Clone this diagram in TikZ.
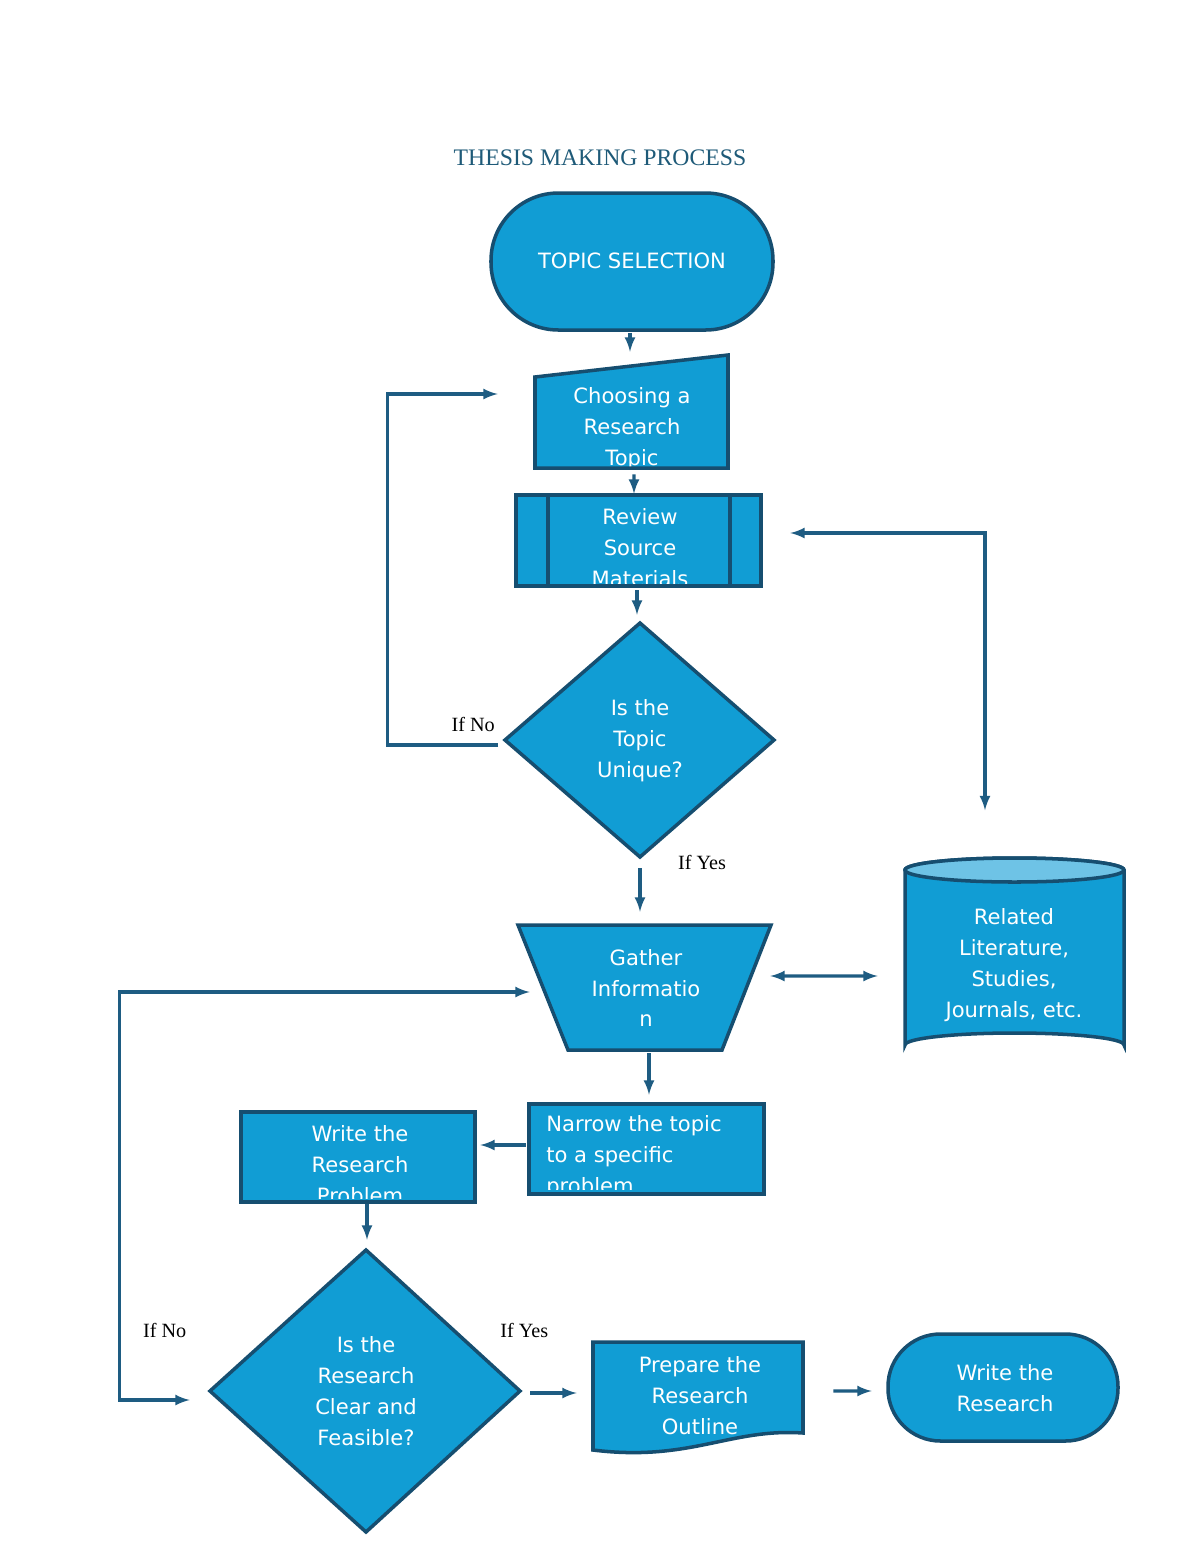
\documentclass[tikz,border=0pt]{standalone}
\usepackage{fontspec}
\newfontfamily\boxfont{DejaVu Sans}
\newfontfamily\labfont{Liberation Serif}
\usetikzlibrary{arrows,calc,positioning}
\definecolor{boxfill}{RGB}{17,157,212}
\definecolor{boxline}{RGB}{22,78,112}
\definecolor{arrcol}{RGB}{30,92,130}
\definecolor{cyltop}{RGB}{110,195,230}
\definecolor{titlecol}{RGB}{30,90,120}

\begin{document}
\begin{tikzpicture}
   [x=0.02cm,y=-0.02cm,
	frame/.style={inner sep=0pt},
	shp/.style={draw=boxline,fill=boxfill,line width=2pt},
	txt/.style={text=white,align=center,inner sep=0pt,
	 font=\boxfont\fontsize{12}{17.6}\selectfont},
	lab/.style={font=\labfont\fontsize{11.5}{13}\selectfont,inner sep=0pt},
	arr/.style={->,>=latex,line width=1.8pt,draw=arrcol},
	darr/.style={<->,>=latex,line width=1.8pt,draw=arrcol}]
\fill[white] (0,0) rectangle (1200,1553);
\node [font=\labfont\fontsize{13.5}{15}\selectfont,text=titlecol] (title) at (600,158) {THESIS MAKING PROCESS};
% invisible frames used for the connectors
\node [frame,minimum width=5.64cm,minimum height=2.74cm] (topic) at (632,261) {};
\node [frame,minimum width=3.86cm,minimum height=2.26cm] (choose) at (631.5,411.5) {};
\node [frame,minimum width=4.9cm,minimum height=1.82cm] (review) at (638.5,540.5) {};
\node [frame,minimum width=5.38cm,minimum height=4.68cm] (unique) at (640,740) {};
\node [frame,minimum width=5.06cm,minimum height=2.5cm] (gather) at (644.5,987.5) {};
\node [frame,minimum width=4.38cm,minimum height=3.98cm] (related) at (1014.5,957.5) {};
\node [frame,minimum width=4.7cm,minimum height=1.8cm] (narrow) at (646.5,1149) {};
\node [frame,minimum width=4.68cm,minimum height=1.8cm] (writep) at (358,1157) {};
\node [frame,minimum width=6.2cm,minimum height=5.64cm] (clear) at (365,1391) {};
\node [frame,minimum width=4.2cm,minimum height=2.22cm] (prepare) at (698,1397) {};
\node [frame,minimum width=4.6cm,minimum height=2.14cm] (writer) at (1003,1387.5) {};
% shapes
\draw [shp,rounded corners=1.35cm] (491,193) rectangle (773,330);
\node [txt] at (632,261) {TOPIC SELECTION};
\fill [boxfill] (535,377) -- (728,355) -- (728,468) -- (535,468) -- cycle;
\begin{scope}
\clip (535,377) -- (728,355) -- (728,468) -- (535,468) -- cycle;
\node [txt] (chooset) at (632,429) {Choosing a\\Research\\Topic};
\end{scope}
\draw [shp,fill=none] (535,377) -- (728,355) -- (728,468) -- (535,468) -- cycle;
\fill [boxfill] (516,495) rectangle (761,586);
\begin{scope}
\clip (516,495) rectangle (761,583);
\node [txt] (reviewt) at (640,548) {Review\\Source\\Materials};
\end{scope}
\draw [shp,fill=none] (516,495) rectangle (761,586) (548,495) -- (548,586) (730,495) -- (730,586);
\draw [shp] (505,740) -- (640,623) -- (774,740) -- (640,857) -- cycle;
\node [txt] at (640,741) {Is the\\Topic\\Unique?};
\draw [shp] (518,925) -- (771,925) -- (722,1050) -- (568,1050) -- cycle;
\node [txt] at (646,988) {Gather\\Informatio\\n};
\draw [shp] (905,870) -- (905,1045) arc (180:360:109.5 and 12) -- (1124,870) arc (0:-180:109.5 and 12) -- cycle;
\draw [shp,fill=cyltop] (1014.5,870) ellipse (109.5 and 12);
\node [txt] at (1014,965) {Related\\Literature,\\Studies,\\Journals, etc.};
\fill [boxfill] (529,1104) rectangle (764,1194);
\begin{scope}
\clip (529,1104) rectangle (764,1189);
\node [txt,align=left,anchor=west] (narrowt) at (546,1157) {Narrow the topic\\to a specific\\problem};
\end{scope}
\draw [shp,fill=none] (529,1104) rectangle (764,1194);
\fill [boxfill] (241,1112) rectangle (475,1202);
\begin{scope}
\clip (241,1112) rectangle (475,1198);
\node [txt] (writept) at (360,1165) {Write the\\Research\\Problem};
\end{scope}
\draw [shp,fill=none] (241,1112) rectangle (475,1202);
\draw [shp] (210,1391) -- (366,1250) -- (520,1391) -- (366,1532) -- cycle;
\node [txt] at (366,1391) {Is the\\Research\\Clear and\\Feasible?};
\fill [boxfill] (593,1342) -- (803,1342) -- (803,1433) .. controls (730,1428) and (690,1462) .. (593,1450) -- cycle;
\begin{scope}
\clip (593,1342) -- (803,1342) -- (803,1433) .. controls (730,1428) and (690,1462) .. (593,1450) -- cycle;
\node [txt] (preparet) at (700,1396) {Prepare the\\Research\\Outline};
\end{scope}
\draw [shp,fill=none] (593,1342) -- (803,1342) -- (803,1433) .. controls (730,1428) and (690,1462) .. (593,1450) -- cycle;
\draw [shp,rounded corners=1.05cm] (888,1334) rectangle (1118,1441);
\node [txt] at (1005,1388) {Write the\\Research};
% connectors
\draw [arr] ($(topic.south)+(-2,3)$) -- ($(choose.north)+(-1.5,-3)$);
\draw [arr] ($(choose.south)+(2.5,6)$) -- ($(review.north)+(-4.5,-1)$);
\draw [arr] ($(review.south)+(-1.5,4)$) -- ($(unique.north)+(-3,-8)$);
\draw [arr] ($(unique.west)+(-7,5)$) -- ++(-111,0) |- ($(choose.west)+(-37,-17.5)$);
\node [lab,anchor=south east] at ($(unique.west)+(-10,-8)$) {If No};
\draw [arr] ($(unique.south)+(0,11)$) -- ($(gather.north)+(-4.5,-13)$);
\node [lab] at ($(unique.south)+(62,5)$) {If Yes};
\draw [darr] ($(review.east)+(29,-7.5)$) -| ($(related.north)+(-29.5,-47.5)$);
\draw [darr] ($(gather.east)+(-1,-11.5)$) -- ($(related.west)+(-27,18.5)$);
\draw [arr] ($(gather.south)+(4.5,3)$) -- ($(narrow.north)+(2.5,-9)$);
\draw [arr] ($(narrow.west)+(-3,-4)$) -- ($(writep.east)+(5,-12)$);
\draw [arr] ($(writep.south)+(9,2)$) -- ($(clear.north)+(2,-10)$);
\draw [darr] ($(clear.west)+(-20,9)$) -- ++(-70,0) |- ($(gather.west)+(12,4.5)$);
\node [lab] at ($(clear.west)+(-45,-61)$) {If No};
\draw [arr] ($(clear.east)+(10,2)$) -- ($(prepare.west)+(-16,-4)$);
\node [lab] at ($(clear.east)+(4,-61)$) {If Yes};
\draw [arr] ($(prepare.east)+(30,-6)$) -- ($(writer.west)+(-16,3.5)$);
\end{tikzpicture}
\end{document}
